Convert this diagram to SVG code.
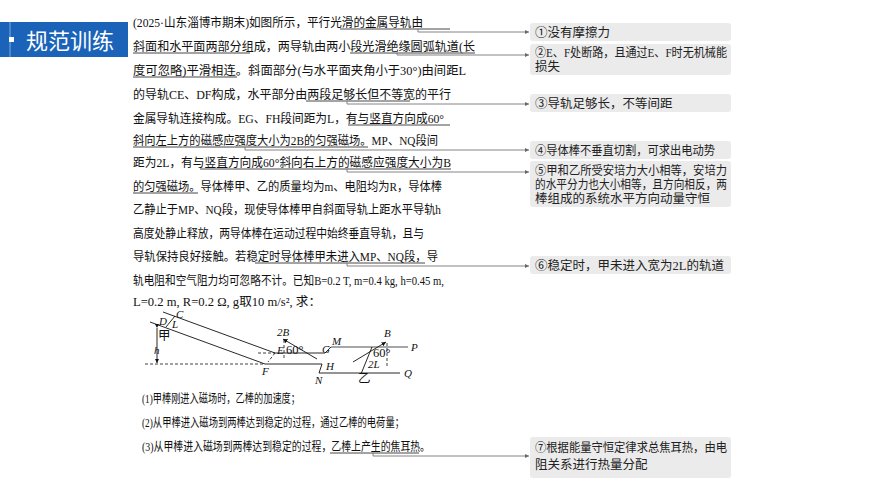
<svg xmlns="http://www.w3.org/2000/svg" width="870" height="489" viewBox="0 0 870 489">
<defs>
<marker id="ah" markerWidth="6" markerHeight="6" refX="5" refY="3" orient="auto"><path d="M0,0.5 L5,3 L0,5.5 z" fill="#666"/></marker>
<marker id="fa" markerWidth="6" markerHeight="6" refX="5" refY="3" orient="auto"><path d="M0,0.5 L5,3 L0,5.5 z" fill="#111"/></marker>
</defs>
<style>
.t{font-family:"Liberation Serif","Noto Sans CJK SC",serif;font-size:12.5px;fill:#111}
.n{font-family:"Liberation Serif","Noto Sans CJK SC",serif;font-size:12.5px;fill:#222}
.i{font-family:"Liberation Serif",serif;font-style:italic;font-size:11px;fill:#111}
.box{fill:#ebebeb}
.c{fill:none;stroke:#777;stroke-width:0.9}
.u{stroke:#333;stroke-width:0.9}
.r{stroke:#111;stroke-width:0.9;fill:none}
.d{stroke:#111;stroke-width:0.8;stroke-dasharray:3,2;fill:none}
</style>
<rect width="870" height="489" fill="#fff"/>
<g id="header">
<rect x="0" y="22" width="128" height="35" fill="#1a63b8"/>
<line x1="10" y1="22" x2="10" y2="57" stroke="#7fa9dd" stroke-width="1"/>
<rect x="9" y="37" width="5" height="5" fill="#fff"/>
<text x="26" y="49" font-family="Noto Sans CJK SC,sans-serif" font-size="22" fill="#fff">规范训练</text>
</g>
<g id="problem">
<text class="t" x="133" y="27" textLength="290" lengthAdjust="spacingAndGlyphs">(2025·山东淄博市期末)如图所示，平行光滑的金属导轨由</text>
<text class="t" x="133" y="51" textLength="342" lengthAdjust="spacingAndGlyphs">斜面和水平面两部分组成，两导轨由两小段光滑绝缘圆弧轨道(长</text>
<text class="t" x="133" y="75" textLength="333" lengthAdjust="spacingAndGlyphs">度可忽略)平滑相连。斜面部分(与水平面夹角小于30°)由间距L</text>
<text class="t" x="133" y="99" textLength="318" lengthAdjust="spacingAndGlyphs">的导轨CE、DF构成，水平部分由两段足够长但不等宽的平行</text>
<text class="t" x="133" y="123" textLength="311" lengthAdjust="spacingAndGlyphs">金属导轨连接构成。EG、FH段间距为L，有与竖直方向成60°</text>
<text class="t" x="133" y="145" textLength="305" lengthAdjust="spacingAndGlyphs">斜向左上方的磁感应强度大小为2B的匀强磁场。MP、NQ段间</text>
<text class="t" x="133" y="167" textLength="318" lengthAdjust="spacingAndGlyphs">距为2L，有与竖直方向成60°斜向右上方的磁感应强度大小为B</text>
<text class="t" x="133" y="191" textLength="309" lengthAdjust="spacingAndGlyphs">的匀强磁场。导体棒甲、乙的质量均为m、电阻均为R，导体棒</text>
<text class="t" x="133" y="214" textLength="308" lengthAdjust="spacingAndGlyphs">乙静止于MP、NQ段，现使导体棒甲自斜面导轨上距水平导轨h</text>
<text class="t" x="133" y="238" textLength="291" lengthAdjust="spacingAndGlyphs">高度处静止释放，两导体棒在运动过程中始终垂直导轨，且与</text>
<text class="t" x="133" y="261" textLength="305" lengthAdjust="spacingAndGlyphs">导轨保持良好接触。若稳定时导体棒甲未进入MP、NQ段，导</text>
<text class="t" x="133" y="285" textLength="311" lengthAdjust="spacingAndGlyphs">轨电阻和空气阻力均可忽略不计。已知B=0.2 T, m=0.4 kg, h=0.45 m,</text>
<text class="t" x="133" y="306" textLength="188" lengthAdjust="spacingAndGlyphs">L=0.2 m, R=0.2 Ω, g取10 m/s², 求：</text>
<text class="t" x="142" y="403" textLength="158" lengthAdjust="spacingAndGlyphs">(1)甲棒刚进入磁场时，乙棒的加速度；</text>
<text class="t" x="142" y="427" textLength="262" lengthAdjust="spacingAndGlyphs">(2)从甲棒进入磁场到两棒达到稳定的过程，通过乙棒的电荷量；</text>
<text class="t" x="142" y="451" textLength="288" lengthAdjust="spacingAndGlyphs">(3)从甲棒进入磁场到两棒达到稳定的过程，乙棒上产生的焦耳热。</text>
<line class="u" x1="340" y1="29" x2="450" y2="29"/>
<line class="u" x1="133" y1="53" x2="250" y2="53"/>
<line class="u" x1="350" y1="53" x2="475" y2="53"/>
<line class="u" x1="133" y1="77" x2="237" y2="77"/>
<line class="u" x1="306" y1="101" x2="410" y2="101"/>
<line class="u" x1="348" y1="125" x2="450" y2="125"/>
<line class="u" x1="133" y1="147" x2="368" y2="147"/>
<line class="u" x1="200" y1="169" x2="451" y2="169"/>
<line class="u" x1="133" y1="193" x2="198" y2="193"/>
<line class="u" x1="255" y1="263" x2="425" y2="263"/>
<line class="u" x1="330" y1="453" x2="419" y2="453"/>
</g>
<g id="figure">
<line class="r" x1="163" y1="312" x2="275" y2="353"/>
<line class="r" x1="150" y1="322" x2="265" y2="364"/>
<line class="d" x1="145" y1="364" x2="265" y2="364"/>
<line class="d" x1="258" y1="353" x2="275" y2="353"/>
<line class="r" x1="166" y1="327" x2="175" y2="316"/>
<line class="r" x1="157" y1="328" x2="157" y2="363" marker-start="url(#fa)" marker-end="url(#fa)"/>
<text class="i" x="176" y="318">C</text>
<text class="i" x="159" y="325">D</text>
<text class="i" x="172" y="328">L</text>
<text class="t" x="158" y="340" font-size="11">甲</text>
<text class="i" x="154" y="354">h</text>
<line class="r" x1="275" y1="353" x2="325" y2="353"/>
<line class="r" x1="325" y1="353" x2="331" y2="347"/>
<line x1="331" y1="347" x2="408" y2="347" stroke="#888" stroke-width="1.3"/>
<line class="r" x1="265" y1="364" x2="322" y2="364"/>
<line class="r" x1="322" y1="364" x2="319" y2="373"/>
<line class="r" x1="319" y1="373" x2="400" y2="373"/>
<line class="d" x1="275" y1="353" x2="268" y2="362"/>
<line class="r" x1="317" y1="359" x2="283" y2="339" marker-end="url(#fa)"/>
<line class="d" x1="284" y1="340" x2="284" y2="360"/>
<line class="r" x1="353" y1="362" x2="386" y2="342" marker-end="url(#fa)"/>
<line class="d" x1="387" y1="343" x2="387" y2="366"/>
<line class="r" x1="361" y1="374" x2="372" y2="347"/>
<text class="i" x="277" y="336">2B</text>
<text class="i" x="277" y="354">E</text>
<text class="t" x="286" y="354" font-size="10">60°</text>
<text class="i" x="262" y="375">F</text>
<text class="i" x="322" y="353">G</text>
<text class="i" x="332" y="345">M</text>
<text class="i" x="326" y="370">H</text>
<text class="i" x="315" y="384">N</text>
<text class="i" x="384" y="337">B</text>
<text class="t" x="373" y="357" font-size="10">60°</text>
<text class="i" x="368" y="368">2L</text>
<text class="t" x="358" y="383" font-size="11">乙</text>
<text class="i" x="411" y="351">P</text>
<text class="i" x="404" y="377">Q</text>
</g>
<g id="connectors">
<path class="c" d="M418,29 V32 H529" marker-end="url(#ah)"/>
<path class="c" d="M397,53 V55 H529" marker-end="url(#ah)"/>
<path class="c" d="M347,101 V104 H529" marker-end="url(#ah)"/>
<path class="c" d="M245,147 V150 H529" marker-end="url(#ah)"/>
<path class="c" d="M347,169 V172 H529" marker-end="url(#ah)"/>
<path class="c" d="M347,263 V266 H529" marker-end="url(#ah)"/>
<path class="c" d="M373,453 V456 H529" marker-end="url(#ah)"/>
</g>
<g id="note1"><rect class="box" x="530" y="23" width="201" height="18" rx="3"/><text class="n" x="535" y="37">①没有摩擦力</text></g>
<g id="note2"><rect class="box" x="530" y="44" width="201" height="31" rx="3"/><text class="n" x="535" y="57" textLength="192" lengthAdjust="spacingAndGlyphs">②E、F处断路，且通过E、F时无机械能</text><text class="n" x="535" y="71">损失</text></g>
<g id="note3"><rect class="box" x="530" y="94" width="201" height="18" rx="3"/><text class="n" x="535" y="108">③导轨足够长，不等间距</text></g>
<g id="note4"><rect class="box" x="530" y="141" width="201" height="18" rx="3"/><text class="n" x="535" y="155" textLength="180" lengthAdjust="spacingAndGlyphs">④导体棒不垂直切割，可求出电动势</text></g>
<g id="note5"><rect class="box" x="530" y="161" width="201" height="46" rx="3"/><text class="n" x="535" y="175" textLength="192" lengthAdjust="spacingAndGlyphs">⑤甲和乙所受安培力大小相等，安培力</text><text class="n" x="535" y="189" textLength="192" lengthAdjust="spacingAndGlyphs">的水平分力也大小相等，且方向相反，两</text><text class="n" x="535" y="203">棒组成的系统水平方向动量守恒</text></g>
<g id="note6"><rect class="box" x="530" y="256" width="201" height="18" rx="3"/><text class="n" x="535" y="270">⑥稳定时，甲未进入宽为2L的轨道</text></g>
<g id="note7"><rect class="box" x="530" y="437" width="201" height="41" rx="3"/><text class="n" x="535" y="452" textLength="192" lengthAdjust="spacingAndGlyphs">⑦根据能量守恒定律求总焦耳热，由电</text><text class="n" x="535" y="469">阻关系进行热量分配</text></g>
</svg>
